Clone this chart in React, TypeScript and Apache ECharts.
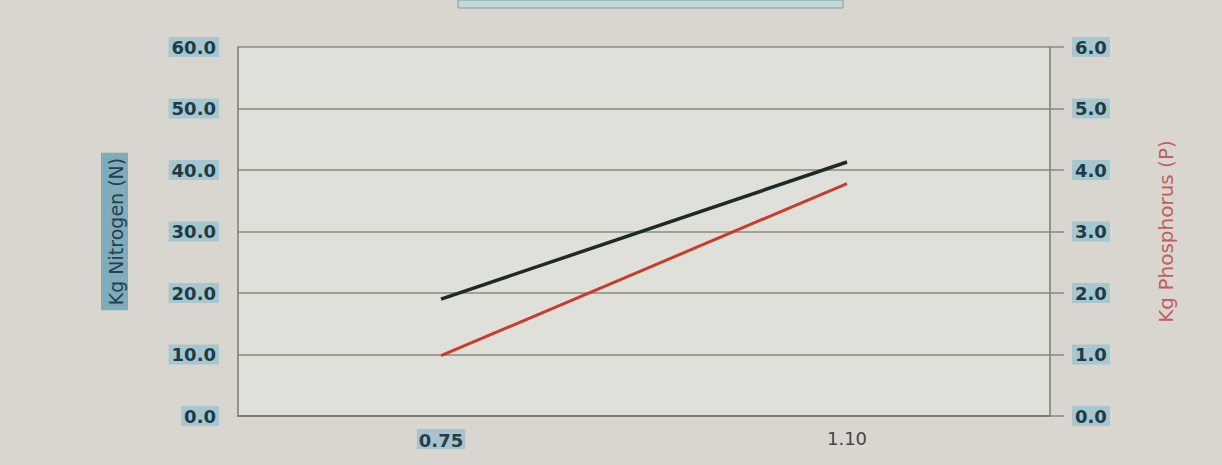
import React, { useEffect, useRef } from "react";
import * as echarts from "echarts";

const categories = ["0.75", "1.10"];
const nitrogen = [19.0, 41.3];
const phosphorus = [0.98, 3.78];
const leftTicks = [0, 10, 20, 30, 40, 50, 60];
const rightTicks = [0, 1, 2, 3, 4, 5, 6];

export default function App() {
  const ref = useRef<HTMLDivElement>(null);
  useEffect(() => {
    if (!ref.current) return;
    const chart = echarts.init(ref.current, null, { renderer: "svg" });
    const labelStyle = {
      color: "#1f3b44",
      fontSize: 18,
      fontWeight: "bold" as const,
      fontFamily: "DejaVu Sans",
      backgroundColor: "#a6c6d0",
      padding: [2, 3, 0, 3],
    };
    chart.setOption({
      animation: false,
      backgroundColor: "#d9d6d0",
      graphic: [
        {
          type: "rect",
          shape: { x: 458, y: 0, width: 385, height: 8 },
          style: { fill: "#c4d8d8", stroke: "#7f9c9e", lineWidth: 1 },
        },
      ],
      grid: {
        left: 238,
        right: 172,
        top: 47,
        bottom: 49,
        show: true,
        backgroundColor: "#e0e0da",
        borderWidth: 0,
      },
      xAxis: {
        type: "category",
        data: categories,
        boundaryGap: true,
        axisLine: { show: true, lineStyle: { color: "#7d7a70", width: 2 } },
        axisTick: { show: false },
        axisLabel: {
          margin: 13,
          formatter: (v: string, i: number) => (i === 0 ? `{hl|${v}}` : `{pl|${v}}`),
          rich: {
            hl: {
              color: "#26404a",
              fontSize: 18,
              fontWeight: "bold",
              fontFamily: "DejaVu Sans",
              backgroundColor: "#a9c3cc",
              padding: [2, 2, 0, 2],
            },
            pl: { color: "#454643", fontSize: 18, fontFamily: "DejaVu Sans" },
          },
        },
      },
      yAxis: [
        {
          type: "value",
          min: leftTicks[0],
          max: leftTicks[leftTicks.length - 1],
          interval: 10,
          position: "left",
          name: "Kg Nitrogen (N)",
          nameLocation: "middle",
          nameGap: 110,
          nameTextStyle: {
            color: "#23424d",
            fontSize: 19,
            fontFamily: "DejaVu Sans",
            backgroundColor: "#80abba",
            padding: [5, 5, 3, 5],
          },
          axisLine: { show: true, lineStyle: { color: "#7d7a70", width: 1.5 } },
          axisTick: { show: false },
          splitLine: { show: true, lineStyle: { color: "#8e887a", width: 1.5 } },
          axisLabel: { ...labelStyle, margin: 19, formatter: (v: number) => v.toFixed(1) },
        },
        {
          type: "value",
          min: rightTicks[0],
          max: rightTicks[rightTicks.length - 1],
          interval: 1,
          position: "right",
          name: "Kg Phosphorus (P)",
          nameLocation: "middle",
          nameGap: 106,
          nameTextStyle: {
            color: "#c0605a",
            fontSize: 20,
            fontFamily: "DejaVu Sans",
          },
          axisLine: { show: true, lineStyle: { color: "#7d7a70", width: 1.5 } },
          axisTick: { show: true, inside: false, length: 14, lineStyle: { color: "#8e887a", width: 1.5 } },
          splitLine: { show: false },
          axisLabel: { ...labelStyle, margin: 22, formatter: (v: number) => v.toFixed(1) },
        },
      ],
      series: [
        {
          name: "Nitrogen",
          type: "line",
          yAxisIndex: 0,
          data: nitrogen,
          symbol: "none",
          lineStyle: { color: "#1e2a27", width: 3.5 },
        },
        {
          name: "Phosphorus",
          type: "line",
          yAxisIndex: 1,
          data: phosphorus,
          symbol: "none",
          lineStyle: { color: "#c83c2e", width: 3 },
        },
      ],
    });
    return () => chart.dispose();
  }, []);
  return (
    <div
      ref={ref}
      style={{ position: "fixed", left: 0, top: 0, width: 1222, height: 465 }}
    />
  );
}
